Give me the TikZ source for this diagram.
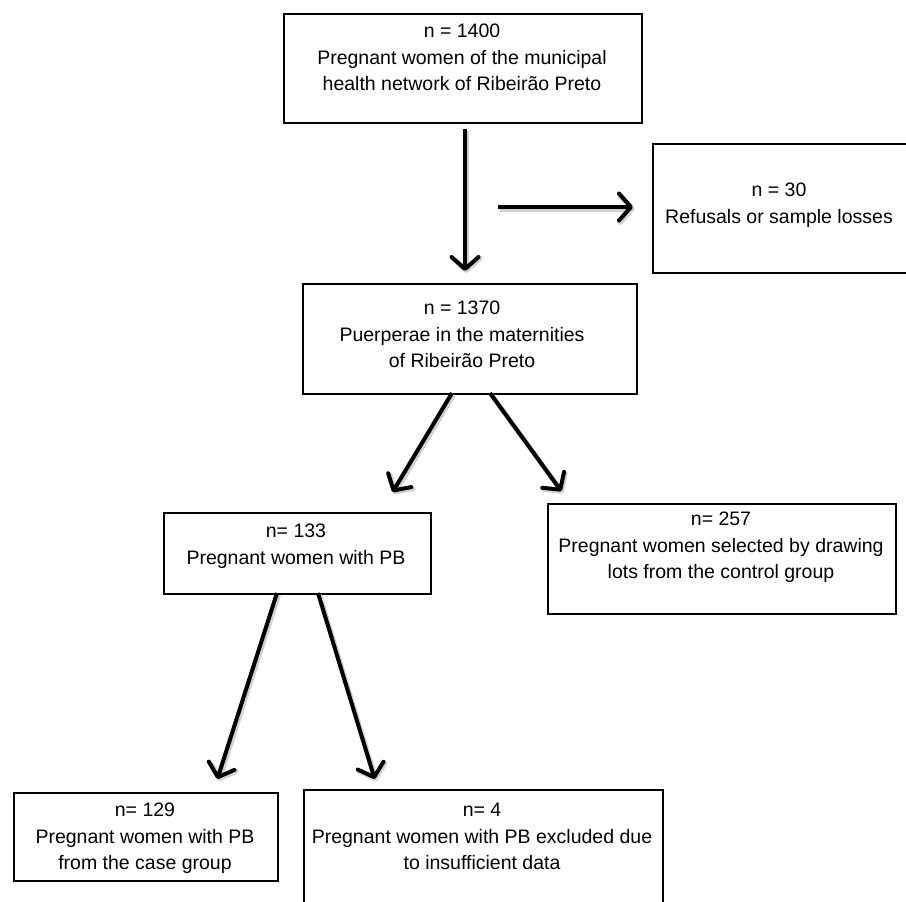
\documentclass[tikz,border=0pt]{standalone}
\usepackage{fontspec}
\setmainfont{Liberation Sans}
\usetikzlibrary{arrows.meta}
\tikzset{
  fbox/.style={draw=black, line width=2.4pt, inner sep=0pt, anchor=north west},
  txt/.style={inner sep=0pt, align=center, anchor=north, font=\fontsize{19.5}{26.5}\selectfont},
  flow/.style={line width=4pt, -{Straight Barb[length=12pt,width=27pt,round]}, shorten >=1pt,
    preaction={draw=black!18, line width=5pt, transform canvas={shift={(1.5pt,-2pt)}}}}
}
\begin{document}
\begin{tikzpicture}[x=1pt,y=-1pt]
\useasboundingbox (0,0) rectangle (906,902);
% boxes
\node[fbox, minimum width=358pt, minimum height=109pt] (b1) at (283,13) {};
\node[fbox, minimum width=258pt, minimum height=129pt] (b2) at (652,143) {};
\node[fbox, minimum width=334pt, minimum height=110pt] (b3) at (302,283) {};
\node[fbox, minimum width=267pt, minimum height=81pt] (b4) at (163,512) {};
\node[fbox, minimum width=348pt, minimum height=110pt] (b5) at (547,503) {};
\node[fbox, minimum width=264pt, minimum height=88pt] (b6) at (13,792) {};
\node[fbox, minimum width=359pt, minimum height=130pt] (b7) at (303,789) {};
% texts (north = cap top of first line)
\node[txt] (t1) at (462,24) {n = 1400\\Pregnant women of the municipal\\health network of Ribeirão Preto};
\node[txt] (t2) at (779,183) {n = 30\\Refusals or sample losses};
\node[txt] (t3) at (462,301) {n = 1370\\Puerperae in the maternities\\of Ribeirão Preto};
\node[txt] (t4) at (296,524) {n= 133\\Pregnant women with PB};
\node[txt] (t5) at (721,512) {n= 257\\Pregnant women selected by drawing\\lots from the control group};
\node[txt] (t6) at (145,803) {n= 129\\Pregnant women with PB\\from the case group};
\node[txt] (t7) at (482,803) {n= 4\\Pregnant women with PB excluded due\\to insufficient data};
% arrow ends
\coordinate (a1s) at (465,129);
\coordinate (a1e) at (465,272);
\coordinate (h1s) at (498,207);
\coordinate (h1e) at (634,207);
\coordinate (d1s) at (452,393);
\coordinate (d1e) at (392,493);
\coordinate (d2s) at (490,393);
\coordinate (d2e) at (562,492);
\coordinate (d3s) at (277,593);
\coordinate (d3e) at (217,780);
\coordinate (d4s) at (318,593);
\coordinate (d4e) at (375,780);
\draw[flow] (a1s) -- (a1e);
\draw[flow] (h1s) -- (h1e);
\draw[flow] (d1s) -- (d1e);
\draw[flow] (d2s) -- (d2e);
\draw[flow] (d3s) -- (d3e);
\draw[flow] (d4s) -- (d4e);
\end{tikzpicture}
\end{document}
